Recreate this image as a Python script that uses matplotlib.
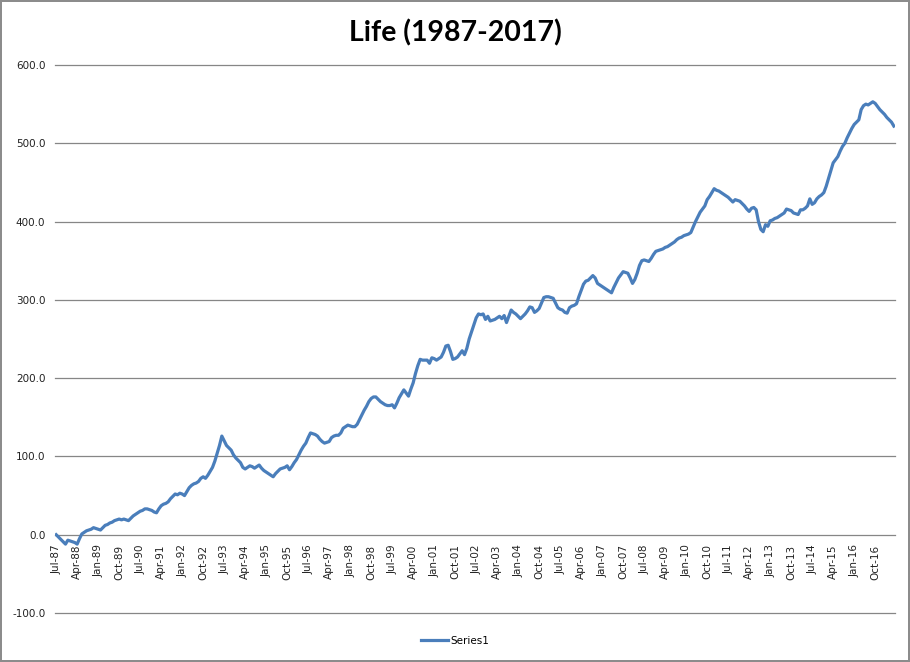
import matplotlib
matplotlib.use('Agg')
import matplotlib.pyplot as plt
import numpy as np
import pandas as pd
from matplotlib.ticker import FormatStrFormatter

# monthly values, Jul-87 .. Jun-17, one row per 12 months
vals_87 = [0, -3, -6, -9, -12, -7, -8, -9, -10, -12, -5, 1]
vals_88 = [3, 5, 6, 7, 9, 8, 7, 6, 9, 12, 13, 15]
vals_89 = [16, 18, 19, 20, 19, 20, 19, 18, 21, 24, 26, 28]
vals_90 = [30, 31, 33, 33, 32, 31, 29, 28, 33, 37, 39, 40]
vals_91 = [42, 46, 49, 52, 51, 53, 52, 50, 55, 60, 63, 65]
vals_92 = [66, 68, 72, 74, 72, 76, 81, 86, 94, 104, 114, 126]
vals_93 = [120, 114, 111, 108, 102, 98, 95, 92, 86, 84, 86, 88]
vals_94 = [87, 85, 87, 89, 85, 82, 80, 78, 76, 74, 78, 81]
vals_95 = [84, 85, 86, 88, 83, 87, 92, 96, 102, 108, 113, 117]
vals_96 = [124, 130, 129, 128, 126, 122, 119, 117, 118, 119, 124, 126]
vals_97 = [127, 127, 130, 136, 138, 140, 139, 138, 138, 141, 147, 153]
vals_98 = [159, 164, 170, 174, 176, 176, 173, 170, 168, 166, 165, 165]
vals_99 = [166, 162, 168, 175, 180, 185, 181, 177, 186, 194, 206, 216]
vals_00 = [224, 223, 223, 223, 219, 226, 225, 223, 225, 227, 233, 241]
vals_01 = [242, 234, 224, 225, 227, 231, 235, 230, 238, 250, 259, 268]
vals_02 = [277, 282, 281, 282, 275, 279, 273, 274, 275, 277, 279, 276]
vals_03 = [280, 271, 279, 287, 284, 282, 279, 276, 279, 282, 286, 291]
vals_04 = [290, 284, 286, 289, 296, 303, 304, 304, 303, 302, 296, 290]
vals_05 = [288, 287, 284, 283, 290, 292, 293, 295, 304, 312, 320, 324]
vals_06 = [325, 328, 331, 328, 321, 319, 317, 315, 313, 311, 309, 316]
vals_07 = [322, 328, 332, 336, 335, 334, 328, 321, 326, 334, 344, 350]
vals_08 = [351, 350, 349, 353, 358, 362, 363, 364, 365, 367, 368, 370]
vals_09 = [372, 374, 377, 379, 380, 382, 383, 384, 386, 393, 400, 406]
vals_10 = [412, 416, 420, 428, 432, 437, 442, 440, 439, 437, 435, 433]
vals_11 = [431, 428, 425, 428, 427, 426, 423, 420, 416, 413, 417, 418]
vals_12 = [415, 400, 390, 387, 396, 394, 401, 402, 404, 405, 407, 409]
vals_13 = [411, 416, 415, 414, 411, 410, 409, 415, 415, 417, 420, 429]
vals_14 = [422, 424, 429, 432, 434, 437, 445, 455, 465, 475, 479, 483]
vals_15 = [490, 496, 500, 507, 513, 519, 524, 527, 530, 543, 548, 550]
vals_16 = [549, 551, 553, 551, 547, 543, 540, 537, 533, 530, 527, 522]

series1 = (vals_87 + vals_88 + vals_89 + vals_90 + vals_91 + vals_92 + vals_93 + vals_94
           + vals_95 + vals_96 + vals_97 + vals_98 + vals_99 + vals_00 + vals_01 + vals_02
           + vals_03 + vals_04 + vals_05 + vals_06 + vals_07 + vals_08 + vals_09 + vals_10
           + vals_11 + vals_12 + vals_13 + vals_14 + vals_15 + vals_16)

months = pd.date_range('1987-07-01', periods=len(series1), freq='MS')
month_labels = [d.strftime('%b-%y') for d in months]
y_ticks = [-100, 0, 100, 200, 300, 400, 500, 600]

fig = plt.figure(figsize=(9.1, 6.62), dpi=100, linewidth=1.5, edgecolor='#8c8c8c')
ax = fig.add_axes([55 / 910, 1 - 613 / 662, 840 / 910, 548 / 662])

# category axis crosses at 0 (set before the tick labels, it resets them)
for s in ['left', 'right', 'top']:
    ax.spines[s].set_visible(False)
ax.spines['bottom'].set_position(('data', 0))
ax.spines['bottom'].set_visible(False)

x = np.arange(len(series1))
ax.plot(x, series1, color='#4a7ebb', lw=2.3, label='Series1', solid_joinstyle='round')

ax.set_xlim(-0.5, len(series1) - 0.5)
ax.set_ylim(-100, 600)
ax.set_yticks(y_ticks)
ax.yaxis.set_major_formatter(FormatStrFormatter('%.1f'))
ax.grid(axis='y', color='#868686', lw=0.9)
ax.set_axisbelow(True)
for gl in ax.get_ygridlines():
    gl.set_clip_on(False)

tick_idx = x[::9]
ax.set_xticks(tick_idx)
ax.set_xticklabels([month_labels[i] for i in tick_idx])
ax.tick_params(axis='x', length=0, pad=7, labelsize=7.5, labelcolor='#222222',
               labelrotation=90)
ax.tick_params(axis='y', length=0, pad=7, labelsize=7.5, labelcolor='#222222')

fig.suptitle('Life (1987-2017)', y=1 - 33 / 662, va='center', fontsize=20.5,
             fontweight='bold', family='Lato')
fig.legend(loc='center', bbox_to_anchor=(0.5, 1 - 641 / 662), frameon=False,
           fontsize=7.5, handlelength=2.6, handletextpad=0.2)

fig.savefig('out.png', dpi=100, edgecolor=fig.get_edgecolor())
